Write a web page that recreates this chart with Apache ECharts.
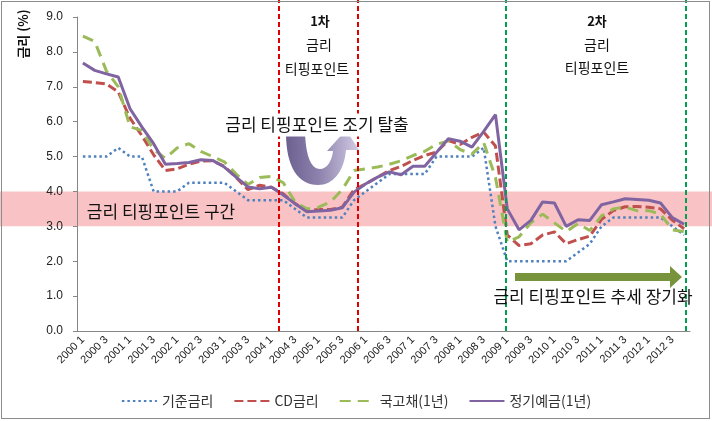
<!DOCTYPE html>
<html>
<head>
<meta charset="utf-8">
<script src="https://cdn.jsdelivr.net/npm/echarts@6/dist/echarts.min.js"></script>
<style>
  html, body { margin: 0; padding: 0; background: #fff; }
  #wrap { position: relative; width: 712px; height: 421px; }
  #chart { width: 712px; height: 421px; }
  #frame {
    position: absolute; left: 1px; top: 1px; width: 709px; height: 418px;
    border: 1px solid #8c8c8c; box-sizing: border-box; pointer-events: none;
  }
</style>
</head>
<body>
<div id="wrap"><div id="chart"></div><div id="frame"></div></div>
<script>
// quarterly categories, 2000 Q1 .. 2012 Q4
const quarters = [
  '2000 1', '2000 2', '2000 3', '2000 4', '2001 1', '2001 2', '2001 3', '2001 4',
  '2002 1', '2002 2', '2002 3', '2002 4', '2003 1', '2003 2', '2003 3', '2003 4',
  '2004 1', '2004 2', '2004 3', '2004 4', '2005 1', '2005 2', '2005 3', '2005 4',
  '2006 1', '2006 2', '2006 3', '2006 4', '2007 1', '2007 2', '2007 3', '2007 4',
  '2008 1', '2008 2', '2008 3', '2008 4', '2009 1', '2009 2', '2009 3', '2009 4',
  '2010 1', '2010 2', '2010 3', '2010 4', '2011 1', '2011 2', '2011 3', '2011 4',
  '2012 1', '2012 2', '2012 3', '2012 4',
]

const seriesNames = ['기준금리', 'CD금리', '국고채(1년)', '정기예금(1년)']

const baseRate = [
  5.0, 5.0, 5.0, 5.25, 5.0, 5.0, 4.0, 4.0, 4.0, 4.25, 4.25, 4.25, 4.25, 4.0, 3.75, 3.75,
  3.75, 3.75, 3.5, 3.25, 3.25, 3.25, 3.25, 3.75, 4.0, 4.25, 4.5, 4.5, 4.5, 4.5, 5.0, 5.0,
  5.0, 5.0, 5.25, 3.0, 2.0, 2.0, 2.0, 2.0, 2.0, 2.0, 2.25, 2.5, 3.0, 3.25, 3.25, 3.25,
  3.25, 3.25, 3.0, 2.75,
]
const cdRate = [
  7.15, 7.12, 7.08, 6.85, 6.1, 5.6, 5.05, 4.6, 4.65, 4.78, 4.87, 4.88, 4.72, 4.4, 4.05, 4.18,
  4.12, 3.93, 3.65, 3.45, 3.48, 3.48, 3.55, 4.05, 4.22, 4.41, 4.6, 4.72, 4.89, 5.03, 5.13, 5.46,
  5.35, 5.55, 5.7, 5.3, 2.75, 2.45, 2.5, 2.75, 2.84, 2.5, 2.62, 2.72, 3.2, 3.45, 3.56, 3.57,
  3.55, 3.5, 3.18, 2.93,
]
const ktb1y = [
  8.45, 8.3, 7.45, 7.0, 5.85, 5.75, 5.2, 4.95, 5.25, 5.37, 5.15, 5.0, 4.85, 4.5, 4.2, 4.4,
  4.43, 4.25, 3.7, 3.5, 3.55, 3.7, 4.05, 4.6, 4.65, 4.7, 4.78, 4.88, 5.03, 5.15, 5.35, 5.45,
  5.2, 5.07, 5.4, 4.4, 2.55, 2.7, 3.1, 3.35, 3.1, 2.85, 3.08, 2.88, 3.3, 3.5, 3.55, 3.45,
  3.45, 3.35, 2.9, 2.85,
]
const deposit1y = [
  7.68, 7.47, 7.37, 7.28, 6.37, 5.85, 5.37, 4.78, 4.8, 4.83, 4.91, 4.89, 4.7, 4.41, 4.13, 4.08,
  4.12, 3.9, 3.65, 3.42, 3.44, 3.46, 3.53, 3.98, 4.22, 4.41, 4.56, 4.48, 4.72, 4.72, 5.12, 5.51,
  5.44, 5.27, 5.72, 6.2, 3.5, 2.9, 3.17, 3.7, 3.67, 3.0, 3.19, 3.17, 3.62, 3.7, 3.79, 3.77,
  3.75, 3.67, 3.25, 3.06,
]

// y axis range and the shaded tipping-point zone (%)
const yRange = [0, 9]
const tippingZone = [3, 4]
// vertical markers, in quarter units from the start of the axis
const firstTipping = [17.1, 23.8]
const secondTipping = [36.35, 51.6]

const KR = '"Noto Sans CJK KR", sans-serif'
const grid = { left: 77, right: 22, top: 17, bottom: 90 }

// curved "early escape" arrow drawn as a custom shape
echarts.graphic.registerShape(
  'uArrow',
  echarts.graphic.extendShape({
    shape: {},
    buildPath(ctx) {
      ctx.moveTo(286, 133)
      ctx.lineTo(305, 133)
      ctx.bezierCurveTo(306, 158, 312, 169, 320, 169)
      ctx.bezierCurveTo(327, 169, 332, 161, 333, 151)
      ctx.lineTo(327, 151)
      ctx.lineTo(346, 130)
      ctx.lineTo(359, 150)
      ctx.lineTo(346, 150)
      ctx.bezierCurveTo(344, 172, 333, 185, 318, 185)
      ctx.bezierCurveTo(299, 185, 286, 168, 286, 133)
      ctx.closePath()
    },
  })
)

const chart = echarts.init(document.getElementById('chart'))

const lineSeries = (name, data, color, type, width) => ({
  name,
  type: 'line',
  data,
  symbol: 'none',
  z: 3,
  lineStyle: { color, width, type, cap: 'butt' },
  itemStyle: { color },
})

const text = (str, x, y, font, extra = {}) => ({
  type: 'text',
  x,
  y,
  z: 100,
  style: { text: str, font, fill: '#111', align: 'center', verticalAlign: 'middle', ...extra },
})

chart.setOption({
  animation: false,
  backgroundColor: '#fff',
  grid: [
    grid,
    { left: grid.left, right: grid.right, top: 0, bottom: grid.bottom },
    { left: 0, right: 0, top: grid.top, bottom: grid.bottom },
  ],
  xAxis: [
    {
      type: 'category',
      data: quarters,
      boundaryGap: true,
      axisLine: { lineStyle: { color: '#868686' } },
      axisTick: { interval: 0, length: 5, lineStyle: { color: '#868686' } },
      axisLabel: {
        interval: 1,
        rotate: 45,
        margin: 7,
        color: '#222',
        fontSize: 11,
        fontFamily: '"Liberation Sans", sans-serif',
      },
    },
    { type: 'value', gridIndex: 1, min: 0, max: quarters.length, show: false },
    { type: 'value', gridIndex: 2, min: 0, max: 1, show: false },
  ],
  yAxis: [
    {
      type: 'value',
      min: yRange[0],
      max: yRange[1],
      interval: 1,
      z: 4,
      axisLine: { show: true, lineStyle: { color: '#868686' } },
      axisTick: { show: true, length: 4, lineStyle: { color: '#868686' } },
      splitLine: { show: false },
      axisLabel: {
        margin: 14,
        color: '#222',
        fontSize: 12,
        fontFamily: '"Liberation Sans", sans-serif',
        formatter: (v) => v.toFixed(1),
      },
    },
    { type: 'value', gridIndex: 1, min: 0, max: 1, show: false },
    { type: 'value', gridIndex: 2, min: yRange[0], max: yRange[1], show: false },
  ],
  legend: {
    data: seriesNames,
    left: 'center',
    top: 389,
    itemWidth: 35,
    itemHeight: 14,
    itemGap: 20,
    itemStyle: { color: 'rgba(0,0,0,0)', borderWidth: 0 },
    textStyle: { fontSize: 14, color: '#333', fontFamily: KR },
  },
  series: [
    {
      type: 'line',
      xAxisIndex: 2,
      yAxisIndex: 2,
      data: [],
      z: 1,
      silent: true,
      markArea: {
        silent: true,
        itemStyle: { color: '#f9c3c6' },
        data: [[{ yAxis: tippingZone[0] }, { yAxis: tippingZone[1] }]],
      },
    },
    {
      type: 'line',
      xAxisIndex: 1,
      yAxisIndex: 1,
      data: [],
      z: 2,
      silent: true,
      markLine: {
        silent: true,
        symbol: ['none', 'none'],
        label: { show: false },
        data: [
          ...firstTipping.map((v) => ({ xAxis: v, lineStyle: { color: '#e00000', width: 2, type: [5, 3] } })),
          ...secondTipping.map((v) => ({ xAxis: v, lineStyle: { color: '#00a050', width: 2, type: [5, 3] } })),
        ],
      },
    },
    lineSeries(seriesNames[0], baseRate, '#4f81bd', [2.5, 3], 2.5),
    lineSeries(seriesNames[1], cdRate, '#c0504d', [9, 4], 3),
    lineSeries(seriesNames[2], ktb1y, '#9bbb59', [11, 7], 3),
    lineSeries(seriesNames[3], deposit1y, '#8064a2', 'solid', 3),
  ],
  graphic: [
    {
      type: 'text',
      x: 23,
      y: 34,
      rotation: Math.PI / 2,
      z: 100,
      style: { text: '금리 (%)', font: `bold 13px ${KR}`, fill: '#111', align: 'center', verticalAlign: 'middle' },
    },
    text('1차', 320, 21, `bold 13px ${KR}`),
    text('금리', 319, 45, `14px ${KR}`),
    text('티핑포인트', 317, 69, `14px ${KR}`),
    text('2차', 597, 21, `bold 13px ${KR}`),
    text('금리', 597, 45, `14px ${KR}`),
    text('티핑포인트', 597, 68, `14px ${KR}`),
    text('금리 티핑포인트 조기 탈출', 317, 125, `17px ${KR}`, { backgroundColor: '#fff', padding: [3, 2] }),
    text('금리 티핑포인트 구간', 161, 212, `17px ${KR}`),
    text('금리 티핑포인트 추세 장기화', 593, 297, `17px ${KR}`),
    {
      type: 'uArrow',
      z: 90,
      shape: {},
      style: {
        fill: new echarts.graphic.LinearGradient(0, 0, 1, 0, [
          { offset: 0, color: '#6c6090' },
          { offset: 0.45, color: '#8d82ad' },
          { offset: 1, color: '#d2cbe4' },
        ]),
      },
    },
    {
      type: 'polygon',
      z: 90,
      shape: {
        points: [[515, 273], [670, 273], [670, 266], [682, 277], [670, 288], [670, 281], [515, 281]],
      },
      style: { fill: '#77933c' },
    },
  ],
})
</script>
</body>
</html>
